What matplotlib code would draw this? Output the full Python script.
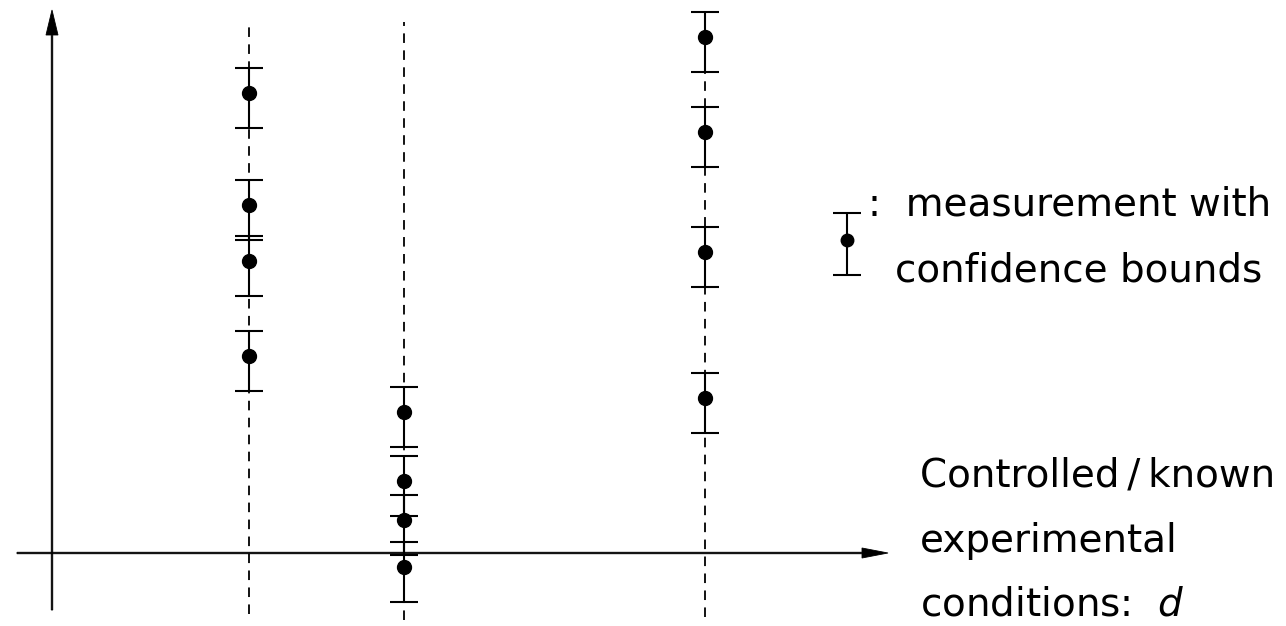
import matplotlib.pyplot as plt

# experimental conditions d (three settings) and measurements at each one
conditions = [1.97, 3.52, 6.53]
measurements = [
    [4.60, 3.48, 2.92, 1.97],
    [1.41, 0.72, 0.33, -0.14],
    [5.16, 4.21, 3.01, 1.55],
]
err_below = 0.35
err_above = 0.25

legend_text_1 = ":  measurement with"
legend_text_2 = "confidence bounds"
xlabel_lines = ["Controlled\u2009/\u2009known", "experimental", "conditions:  $d$"]

fig = plt.figure(figsize=(12.86, 6.26), dpi=100)
ax = fig.add_axes([0, 0, 1, 1])
ax.set_xlim(-0.52, 12.34)
ax.set_ylim(-0.73, 5.53)
ax.axis("off")

# axes with arrow heads
ax.arrow(0, -0.57, 0, 6.0, width=0.015, head_width=0.12, head_length=0.25,
         length_includes_head=True, color="black", lw=0.6)
ax.arrow(-0.35, 0, 8.71, 0, width=0.015, head_width=0.10, head_length=0.26,
         length_includes_head=True, color="black", lw=0.6)

# dashed guide lines at each condition
guide_top = [5.33, 5.31, 5.41]
guide_bottom = [-0.61, -0.67, -0.64]
for d, top, bot in zip(conditions, guide_top, guide_bottom):
    ax.plot([d, d], [bot, top], color="black", lw=1.3,
            linestyle=(0, (5.3, 4.1)), zorder=1)

# measurements with confidence bounds
for d, ys in zip(conditions, measurements):
    xs = [d] * len(ys)
    yerr = [[err_below] * len(ys), [err_above] * len(ys)]
    ax.errorbar(xs, ys, yerr=yerr, fmt="o", color="black", ms=10,
                elinewidth=1.5, capsize=10.4, capthick=1.5, zorder=3)

# legend entry
ax.errorbar([7.95], [3.13], yerr=[[0.35], [0.27]], fmt="o", color="black",
            ms=9, elinewidth=1.5, capsize=10.2, capthick=1.5)
ax.text(8.16, 3.38, legend_text_1, fontsize=28, va="baseline", ha="left")
ax.text(8.43, 2.71, legend_text_2, fontsize=28, va="baseline", ha="left")

# axis label on the right
for y, line in zip([0.66, 0.01, -0.62], xlabel_lines):
    ax.text(8.68, y, line, fontsize=28, va="baseline", ha="left")

fig.savefig("out.png", dpi=100)
